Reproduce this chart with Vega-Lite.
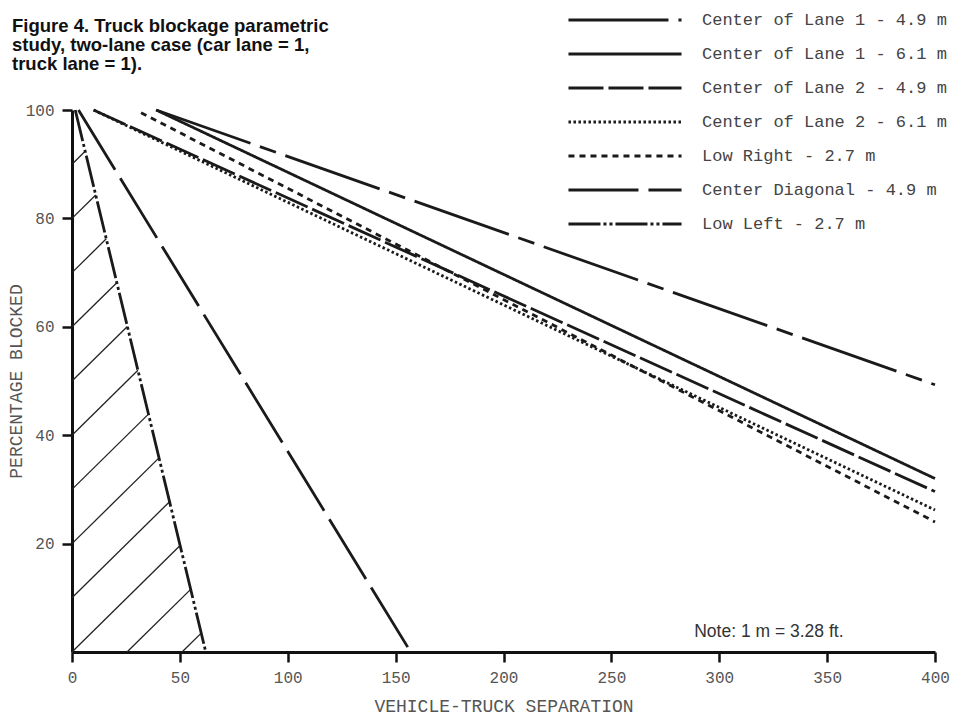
{
  "$schema": "https://vega.github.io/schema/vega-lite/v6.json",
  "width": 863,
  "height": 542,
  "autosize": {"type": "none"},
  "padding": {"left": 72, "top": 110, "right": 27, "bottom": 63},
  "background": "white",
  "title": {
    "text": ["Figure 4.  Truck blockage parametric", "study, two-lane case (car lane = 1,", "truck lane = 1)."],
    "anchor": "start",
    "frame": "group",
    "dx": -60,
    "offset": -64,
    "font": "Liberation Sans",
    "fontSize": 18.5,
    "fontWeight": "bold",
    "lineHeight": 19,
    "color": "#111"
  },
  "datasets": {
    "curves": [
      {"series": "Center of Lane 1 - 4.9 m", "separation": 39, "blocked": 100},
      {"series": "Center of Lane 1 - 4.9 m", "separation": 400, "blocked": 49.3},
      {"series": "Center of Lane 1 - 6.1 m", "separation": 39, "blocked": 100},
      {"series": "Center of Lane 1 - 6.1 m", "separation": 400, "blocked": 32},
      {"series": "Center of Lane 2 - 4.9 m", "separation": 10, "blocked": 100},
      {"series": "Center of Lane 2 - 4.9 m", "separation": 400, "blocked": 29.6},
      {"series": "Center of Lane 2 - 6.1 m", "separation": 10, "blocked": 100},
      {"series": "Center of Lane 2 - 6.1 m", "separation": 400, "blocked": 26.2},
      {"series": "Low Right -  2.7 m", "separation": 32, "blocked": 99.5},
      {"series": "Low Right -  2.7 m", "separation": 400, "blocked": 24},
      {"series": "Center Diagonal - 4.9 m", "separation": 3, "blocked": 100},
      {"series": "Center Diagonal - 4.9 m", "separation": 157, "blocked": 0},
      {"series": "Low Left -  2.7 m", "separation": 1.5, "blocked": 100},
      {"series": "Low Left -  2.7 m", "separation": 62, "blocked": 0}
    ],
    "hatch": [
      {"x0": 0, "y0": 0, "x1": 50.11, "y1": 19.64},
      {"x0": 0, "y0": 10, "x1": 45.22, "y1": 27.73},
      {"x0": 0, "y0": 20, "x1": 40.33, "y1": 35.81},
      {"x0": 0, "y0": 30, "x1": 35.44, "y1": 43.89},
      {"x0": 0, "y0": 40, "x1": 30.55, "y1": 51.98},
      {"x0": 0, "y0": 50, "x1": 25.66, "y1": 60.06},
      {"x0": 0, "y0": 60, "x1": 20.77, "y1": 68.14},
      {"x0": 0, "y0": 70, "x1": 15.88, "y1": 76.23},
      {"x0": 0, "y0": 80, "x1": 10.99, "y1": 84.31},
      {"x0": 0, "y0": 90, "x1": 6.10, "y1": 92.39},
      {"x0": 25.5, "y0": 0, "x1": 55.0, "y1": 11.56},
      {"x0": 51, "y0": 0, "x1": 59.89, "y1": 3.48}
    ],
    "notes": [
      {"note": "Note:  1 m = 3.28 ft.", "nx": 323, "ny": 3.7}
    ]
  },
  "layer": [
    {
      "data": {"name": "hatch"},
      "mark": {"type": "rule", "color": "#222", "strokeWidth": 1.3},
      "encoding": {
        "x": {"field": "x0", "type": "quantitative", "scale": {"domain": [0, 400], "nice": false}},
        "y": {"field": "y0", "type": "quantitative", "scale": {"domain": [0, 100], "nice": false}},
        "x2": {"field": "x1"},
        "y2": {"field": "y1"}
      }
    },
    {
      "data": {"name": "curves"},
      "mark": {"type": "line", "color": "#1a1a1a", "strokeWidth": 2.8, "strokeCap": "butt"},
      "encoding": {
        "x": {
          "field": "separation",
          "type": "quantitative",
          "scale": {"domain": [0, 400], "nice": false},
          "axis": {
            "values": [0, 50, 100, 150, 200, 250, 300, 350, 400],
            "title": "VEHICLE-TRUCK SEPARATION",
            "grid": false,
            "domainColor": "#111",
            "domainWidth": 3,
            "tickColor": "#111",
            "tickWidth": 2.5,
            "tickSize": 10,
            "labelFont": "Liberation Mono",
            "labelFontSize": 16,
            "labelColor": "#555",
            "labelPadding": 7,
            "labelFlush": false,
            "titleFont": "Liberation Mono",
            "titleFontSize": 18,
            "titleFontWeight": "normal",
            "titleColor": "#555",
            "titlePadding": 12
          }
        },
        "y": {
          "field": "blocked",
          "type": "quantitative",
          "scale": {"domain": [0, 100], "nice": false},
          "axis": {
            "values": [20, 40, 60, 80, 100],
            "title": "PERCENTAGE BLOCKED",
            "grid": false,
            "domainColor": "#111",
            "domainWidth": 3,
            "tickColor": "#111",
            "tickWidth": 2.5,
            "tickSize": 10,
            "labelFont": "Liberation Mono",
            "labelFontSize": 16,
            "labelColor": "#555",
            "labelPadding": 8,
            "labelFlush": false,
            "titleFont": "Liberation Mono",
            "titleFontSize": 18,
            "titleFontWeight": "normal",
            "titleColor": "#555",
            "titlePadding": 0
          }
        },
        "strokeDash": {
          "field": "series",
          "type": "nominal",
          "sort": null,
          "scale": {
            "domain": ["Center of Lane 1 - 4.9 m", "Center of Lane 1 - 6.1 m", "Center of Lane 2 - 4.9 m", "Center of Lane 2 - 6.1 m", "Low Right -  2.7 m", "Center Diagonal - 4.9 m", "Low Left -  2.7 m"],
            "range": [[100, 10, 17, 10], [1, 0], [35, 5], [2.5, 2.5], [6, 5], [70, 10], [32, 3, 3, 3, 3, 3]]
          },
          "legend": {
            "title": null,
            "orient": "none",
            "legendX": 542,
            "legendY": -101,
            "padding": 0,
            "symbolType": "M-6,0H6",
            "symbolSize": 355,
            "symbolStrokeWidth": 2.8,
            "symbolStrokeColor": "#1a1a1a",
            "symbolFillColor": "transparent",
            "labelFont": "Liberation Mono",
            "labelFontSize": 17,
            "labelColor": "#444",
            "labelOffset": 66,
            "labelLimit": 400,
            "rowPadding": 15
          }
        }
      }
    },
    {
      "data": {"name": "notes"},
      "mark": {"type": "text", "font": "Liberation Sans", "fontSize": 17.5, "color": "#333", "align": "center", "baseline": "middle"},
      "encoding": {
        "x": {"field": "nx", "type": "quantitative"},
        "y": {"field": "ny", "type": "quantitative"},
        "text": {"field": "note"}
      }
    }
  ],
  "config": {"view": {"stroke": null}}
}
